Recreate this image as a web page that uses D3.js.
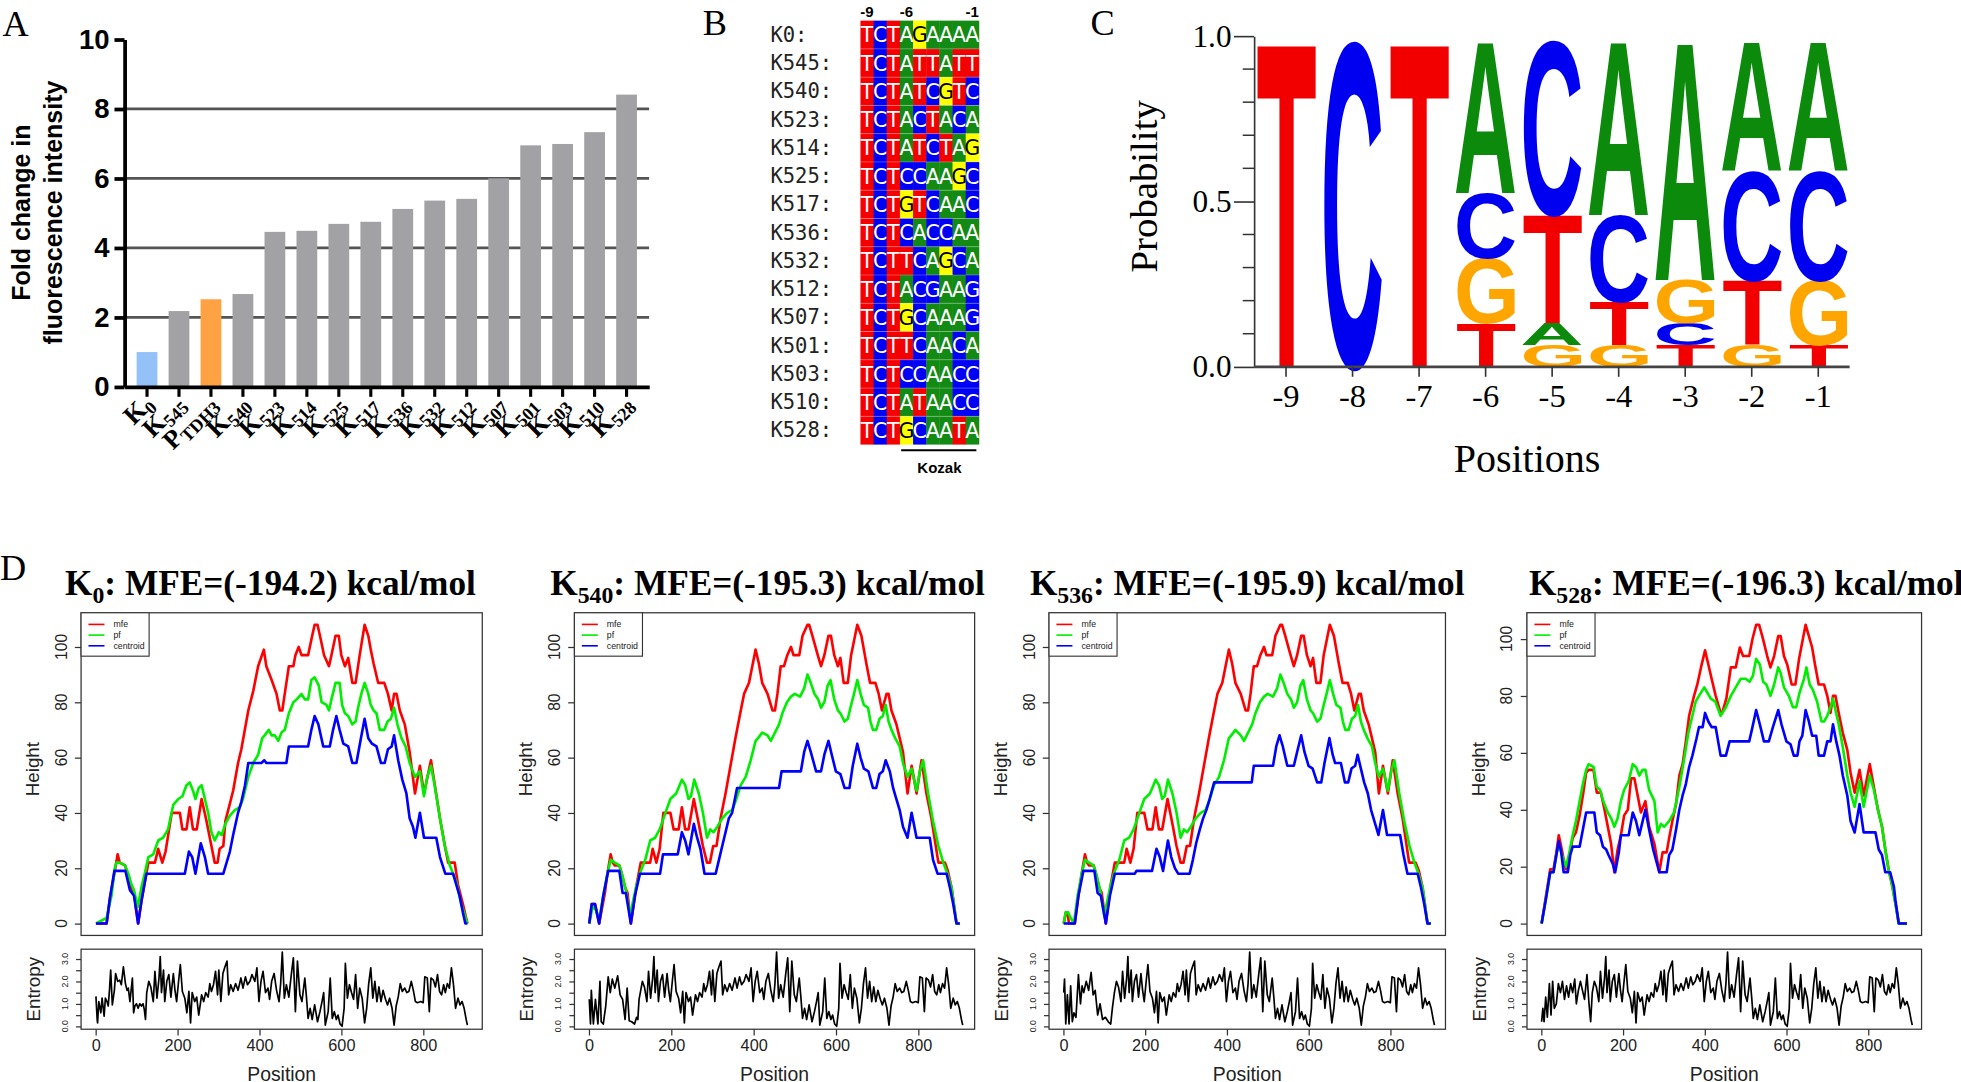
<!DOCTYPE html>
<html><head><meta charset="utf-8">
<script src="https://cdn.jsdelivr.net/npm/d3@7"></script>
<style>html,body{margin:0;padding:0;background:#fff}svg{display:block}</style>
</head><body>
<svg id="chart" width="1961" height="1082" viewBox="0 0 1568 865.2"></svg>
<script>
// ---------------- DATA ----------------
// Panel A
const A_CATEGORIES = ["K0","K545","PTDH3","K540","K523","K514","K525","K517","K536","K532","K512","K507","K501","K503","K510","K528"];
const A_VALUES = [1.0,2.18,2.52,2.67,4.46,4.49,4.69,4.75,5.12,5.36,5.41,6.0,6.95,6.99,7.33,8.41];
const A_TICKS = [0,2,4,6,8,10];
const A_GRID = [2,4,6,8];
const A_YLABEL = ["Fold change in","fluorescence intensity"];

// Panel B (lowercase g = G drawn on blue in the figure)
const B_NAMES = ["K0","K545","K540","K523","K514","K525","K517","K536","K532","K512","K507","K501","K503","K510","K528"];
const B_SEQS = ["TCTAGAAAA","TCTATTATT","TCTATCGTC","TCTACTACA","TCTATCTAG","TCTCCAAGC","TCTGTCAAC","TCTCACCAA","TCTTCAGCA","TCTACgAAg","TCTGCAAAg","TCTTCAACA","TCTCCAACC","TCTATAACC","TCTGCAATA"];
const B_POSITIONS = [-9,-8,-7,-6,-5,-4,-3,-2,-1];
const B_HEADERS = [-9,-6,-1];

// Panel C
const C_YTICKS = [0,0.5,1.0];
const C_MINOR = [0.1,0.2,0.3,0.4,0.6,0.7,0.8,0.9];

// Panel D
const D_SUBS = ["0","540","536","528"];
const D_MFE_VALUES = [-194.2,-195.3,-195.9,-196.3];
const D_HTICKS = [0,20,40,60,80,100];
const D_ETICKS = [0,0.5,1,1.5,2,2.5,3];
const D_XTICKS = [0,200,400,600,800];

const K0_MFE = [[1,0],[27,0],[35,9],[47,19],[54,25],[59,22],[72,21],[76,19],[84,14],[94,11],[104,0],[112,8],[124,18],[129,22],[145,22],[153,27],[163,22],[171,26],[186,40],[206,40],[212,34],[222,34],[230,42],[238,34],[247,34],[259,45],[271,37],[279,31],[291,22],[298,22],[303,27],[312,28],[317,37],[336,48],[348,58],[356,63],[373,77],[385,84],[397,93],[411,99],[417,93],[430,88],[442,83],[450,77],[456,77],[462,83],[472,93],[483,93],[488,97],[496,100],[503,97],[519,97],[529,104],[535,108],[542,108],[548,104],[558,97],[570,93],[576,97],[586,104],[594,104],[600,97],[609,93],[617,96],[627,87],[635,87],[645,97],[657,108],[666,104],[672,99],[679,94],[690,87],[705,87],[714,83],[723,77],[729,83],[735,83],[743,77],[755,72],[767,62],[780,47],[792,57],[802,47],[819,59],[841,38],[853,28],[861,22],[877,22],[885,14],[897,7],[908,0]];
const K0_PF = [[1,0],[27,2],[39,10],[47,20],[51,22],[59,22],[72,21],[80,18],[88,14],[94,12],[103,6],[112,13],[120,18],[129,24],[141,25],[153,30],[165,31],[177,34],[190,43],[202,45],[212,46],[222,50],[230,51],[238,48],[244,45],[252,49],[259,50],[267,45],[275,40],[283,33],[291,30],[301,33],[308,32],[317,36],[328,39],[340,41],[352,42],[360,45],[373,53],[385,58],[397,61],[407,67],[413,68],[423,70],[430,68],[438,68],[446,66],[454,69],[462,70],[472,76],[483,80],[491,81],[503,83],[511,81],[519,81],[527,88],[535,89],[545,86],[552,80],[564,79],[570,77],[576,81],[586,87],[596,87],[602,79],[609,76],[617,75],[627,72],[635,73],[641,78],[649,83],[657,87],[666,83],[672,79],[679,77],[686,76],[694,70],[705,70],[713,73],[721,74],[729,78],[737,72],[747,67],[757,64],[767,58],[780,53],[792,55],[802,46],[810,53],[819,57],[828,50],[841,38],[853,28],[865,21],[881,15],[893,7],[908,0]];
const K0_CEN = [[1,0],[27,0],[35,9],[46,19],[73,19],[84,12],[94,10],[104,0],[112,8],[124,18],[218,18],[228,26],[236,24],[244,18],[257,29],[267,24],[275,18],[312,18],[320,22],[328,26],[336,32],[348,40],[356,44],[365,50],[373,58],[405,58],[412,59],[417,58],[466,58],[472,64],[519,64],[527,70],[535,75],[544,72],[556,64],[572,64],[580,70],[588,75],[596,70],[605,65],[617,64],[627,58],[637,58],[648,67],[657,74],[666,67],[675,65],[686,64],[697,58],[706,58],[714,63],[723,64],[729,68],[739,59],[749,52],[759,47],[767,38],[775,35],[781,31],[792,40],[802,31],[832,31],[841,24],[854,18],[873,18],[881,14],[889,10],[897,4],[903,0],[908,0]];

const K540_MFE = [[1,0],[7,7],[15,7],[25,0],[39,11],[45,18],[53,25],[58,22],[63,21],[74,21],[80,18],[88,13],[94,11],[102,0],[116,14],[126,22],[149,22],[155,27],[164,22],[172,27],[181,40],[198,40],[206,34],[218,34],[226,42],[234,34],[242,34],[255,45],[267,36],[277,28],[287,22],[294,22],[302,28],[310,28],[320,38],[332,47],[344,57],[356,67],[369,77],[377,83],[389,87],[397,93],[405,99],[413,94],[421,87],[434,83],[446,77],[452,77],[458,83],[466,93],[474,93],[482,97],[491,100],[497,97],[511,97],[519,104],[531,108],[535,108],[543,104],[556,97],[564,93],[572,97],[582,104],[588,104],[596,97],[605,93],[611,96],[619,87],[629,87],[637,97],[652,108],[662,104],[668,99],[674,94],[683,87],[696,87],[704,83],[712,77],[723,83],[728,83],[735,77],[747,72],[755,67],[763,62],[774,47],[784,57],[796,47],[808,59],[820,47],[832,38],[849,22],[865,22],[872,19],[881,13],[893,0],[901,0]];
const K540_PF = [[1,0],[9,6],[17,5],[25,1],[35,10],[45,18],[53,23],[63,22],[74,21],[82,17],[90,12],[100,3],[116,14],[126,19],[137,23],[149,30],[161,31],[172,34],[186,40],[198,45],[212,47],[226,52],[234,50],[242,45],[248,46],[256,52],[267,47],[277,40],[287,31],[295,34],[303,33],[312,35],[324,38],[336,40],[348,41],[356,44],[369,50],[381,53],[393,59],[405,66],[411,67],[421,69],[434,68],[442,66],[452,69],[462,72],[470,76],[481,80],[491,82],[500,83],[513,82],[523,85],[531,90],[539,87],[548,83],[557,81],[564,78],[572,80],[580,86],[587,88],[596,81],[605,77],[611,76],[621,73],[629,74],[637,79],[644,83],[652,88],[660,83],[668,79],[678,78],[684,73],[690,70],[698,70],[706,74],[714,75],[721,79],[728,73],[735,70],[744,67],[755,64],[763,58],[774,53],[784,56],[796,48],[804,55],[812,59],[824,47],[836,37],[849,28],[861,22],[871,18],[881,13],[893,0],[901,0]];
const K540_CEN = [[1,0],[7,7],[15,7],[25,0],[35,10],[47,19],[74,19],[82,11],[90,11],[102,0],[112,10],[124,18],[173,18],[180,25],[216,25],[226,33],[234,30],[242,25],[255,36],[263,31],[271,27],[281,18],[308,18],[316,23],[324,28],[332,33],[340,38],[348,40],[360,49],[462,49],[468,55],[515,55],[523,62],[531,66],[539,62],[552,55],[564,55],[572,61],[582,66],[590,61],[600,55],[611,54],[621,49],[633,49],[641,57],[652,65],[660,60],[668,56],[679,55],[690,49],[698,49],[706,54],[714,55],[721,59],[731,55],[739,49],[747,45],[755,41],[763,35],[774,31],[784,40],[796,31],[828,31],[836,23],[847,18],[869,18],[877,13],[885,7],[893,0],[901,0]];

const K536_MFE = [[1,0],[6,4],[10,4],[14,0],[28,0],[37,10],[45,18],[53,25],[58,22],[63,21],[74,21],[80,18],[88,13],[94,11],[104,0],[116,14],[126,22],[149,22],[155,27],[164,22],[172,27],[181,40],[198,40],[206,34],[218,34],[226,42],[234,34],[242,34],[255,45],[267,36],[277,28],[287,22],[294,22],[302,28],[310,28],[320,38],[332,47],[344,57],[356,67],[369,77],[377,83],[389,87],[397,93],[405,99],[413,94],[421,87],[434,83],[446,77],[452,77],[458,83],[466,93],[474,93],[482,97],[491,100],[497,97],[511,97],[519,104],[531,108],[535,108],[543,104],[556,97],[564,93],[572,97],[582,104],[588,104],[596,97],[605,93],[611,96],[619,87],[629,87],[637,97],[652,108],[662,104],[668,99],[674,94],[683,87],[696,87],[704,83],[712,77],[723,83],[728,83],[735,77],[747,72],[755,67],[763,62],[772,47],[782,57],[794,47],[806,59],[818,47],[830,38],[846,22],[862,22],[870,19],[879,13],[891,0],[899,0]];
const K536_PF = [[1,0],[6,4],[12,4],[18,2],[26,0],[35,10],[45,18],[53,23],[63,22],[74,21],[82,17],[90,12],[100,3],[116,14],[126,19],[137,23],[149,30],[161,31],[172,34],[186,40],[198,45],[212,47],[226,52],[234,50],[242,45],[248,46],[256,52],[267,47],[277,40],[287,31],[295,34],[303,33],[312,35],[324,38],[336,40],[348,41],[356,44],[369,50],[381,53],[393,59],[405,67],[411,68],[421,70],[434,68],[442,66],[452,69],[462,72],[470,76],[481,80],[491,82],[500,83],[513,82],[523,85],[531,90],[539,87],[548,83],[557,81],[564,78],[572,80],[580,86],[587,88],[596,81],[605,77],[611,76],[621,73],[629,74],[637,79],[644,83],[652,88],[660,83],[668,79],[678,78],[684,73],[690,70],[698,70],[706,74],[714,75],[721,79],[728,73],[735,70],[744,67],[755,64],[763,58],[772,53],[782,56],[794,48],[802,55],[810,59],[822,47],[834,37],[847,28],[859,22],[869,18],[879,13],[891,0],[899,0]];
const K536_CEN = [[1,0],[28,0],[37,10],[49,19],[76,19],[84,11],[92,10],[104,0],[114,10],[126,18],[175,18],[179,19],[217,19],[228,27],[236,24],[244,19],[256,30],[264,24],[273,20],[281,18],[309,18],[317,23],[325,29],[334,34],[342,38],[350,41],[358,45],[369,51],[461,51],[466,57],[513,57],[521,64],[529,68],[537,64],[548,57],[564,57],[572,62],[582,68],[590,62],[600,57],[610,56],[621,51],[631,51],[639,58],[651,67],[659,61],[665,58],[679,58],[689,51],[697,51],[705,56],[714,57],[720,61],[728,56],[736,51],[745,47],[753,41],[761,37],[771,32],[782,41],[792,32],[824,32],[832,25],[842,18],[867,18],[875,13],[883,7],[891,0],[899,0]];

const K528_MFE = [[1,0],[12,10],[22,19],[30,19],[37,25],[43,31],[49,27],[57,21],[61,19],[69,24],[77,30],[85,32],[94,38],[102,45],[110,53],[116,54],[128,54],[136,46],[146,46],[155,40],[163,34],[171,28],[179,18],[187,26],[195,31],[203,38],[212,40],[220,51],[228,51],[236,45],[244,39],[255,43],[264,34],[277,28],[289,18],[297,25],[307,25],[313,30],[321,36],[330,42],[338,52],[346,56],[354,64],[362,73],[374,80],[382,84],[391,90],[401,96],[409,91],[417,86],[427,80],[439,74],[443,74],[453,79],[464,90],[476,90],[486,97],[494,94],[509,94],[517,100],[526,105],[533,105],[541,101],[553,94],[561,90],[570,94],[580,101],[586,101],[594,94],[602,91],[613,84],[622,84],[631,93],[647,105],[655,101],[663,97],[670,91],[679,84],[692,84],[700,80],[708,74],[714,80],[720,80],[728,74],[738,67],[749,61],[757,53],[767,46],[779,54],[789,45],[804,56],[814,48],[824,40],[834,34],[842,26],[850,19],[858,14],[867,7],[875,0],[895,0]];
const K528_PF = [[1,0],[12,9],[22,18],[30,18],[37,24],[43,28],[51,24],[61,20],[69,25],[77,31],[85,36],[94,43],[102,49],[110,54],[116,56],[128,55],[136,48],[144,47],[152,43],[163,39],[171,37],[179,34],[187,37],[195,43],[203,47],[214,50],[224,56],[232,55],[240,52],[248,54],[255,54],[264,47],[277,43],[285,32],[293,35],[301,34],[313,36],[325,39],[338,48],[350,58],[360,67],[370,73],[378,78],[386,80],[399,83],[407,81],[415,79],[426,78],[439,73],[452,76],[464,80],[476,83],[488,86],[500,86],[510,85],[518,87],[526,93],[535,91],[543,85],[551,84],[561,80],[570,84],[580,90],[586,88],[594,83],[606,80],[616,76],[624,76],[632,81],[643,86],[649,90],[657,84],[665,82],[675,78],[686,71],[692,71],[700,73],[708,76],[714,79],[720,75],[728,70],[738,62],[749,52],[757,46],[767,41],[779,50],[789,41],[804,52],[814,47],[824,40],[834,34],[842,26],[850,19],[858,14],[875,0],[895,0]];
const K528_CEN = [[1,0],[12,9],[22,18],[30,18],[37,24],[43,29],[49,25],[55,18],[65,18],[71,24],[77,27],[94,27],[102,33],[110,39],[130,39],[136,32],[144,31],[151,27],[159,26],[165,24],[175,21],[181,18],[190,25],[195,31],[214,31],[224,39],[232,36],[240,31],[255,40],[264,33],[274,26],[289,18],[307,18],[313,24],[321,26],[330,33],[338,40],[346,45],[354,49],[362,55],[370,59],[380,65],[386,69],[395,69],[401,74],[409,71],[417,69],[427,69],[439,59],[452,59],[461,64],[509,64],[517,69],[526,75],[535,70],[545,64],[557,64],[567,69],[580,75],[588,70],[600,64],[610,63],[618,59],[627,59],[632,64],[639,66],[647,75],[655,71],[663,66],[673,66],[679,59],[692,59],[700,64],[708,64],[714,70],[722,64],[730,59],[738,52],[749,45],[757,36],[767,32],[779,42],[789,32],[818,32],[826,26],[834,24],[842,18],[854,18],[863,13],[867,8],[875,0],[895,0]];

// Entropy (position, entropy)
const ENT_K0_HEAD = [[1,1.33],[4,0.3],[5,0.15],[8,1.1],[13,0.6],[16,1.25],[21,0.45],[24,1.25],[28,1.1],[31,0.9],[34,1.6],[37,2.5],[41,0.95],[46,1.6],[49,2.35],[54,2.0],[59,2.05],[63,1.85],[68,2.65],[73,1.9],[77,1.6],[80,1.7],[84,1.1],[90,2.15],[93,0.6],[96,0.9],[100,1.0],[104,0.8],[108,1.0],[112,0.9],[116,1.0],[119,0.75],[122,0.3]];
const ENT_K540_HEAD = [[1,1.2],[4,0.1],[6,1.6],[11,0.1],[16,1.2],[22,0.1],[27,2.0],[30,0.2],[35,0.1],[41,0.9],[47,2.2],[52,1.5],[57,2.1],[63,1.7],[70,2.25],[76,1.4],[82,1.2],[88,0.3],[93,1.7],[98,0.25],[104,0.2],[111,0.1],[116,0.4],[119,0.3],[122,1.2]];
const ENT_K536_HEAD = [[1,1.5],[3,2.1],[6,0.1],[10,1.4],[14,0.1],[18,1.8],[22,0.2],[26,0.6],[31,0.4],[37,2.3],[42,1.0],[46,1.8],[50,1.5],[56,2.0],[62,1.6],[68,2.4],[73,1.4],[78,1.6],[84,0.5],[90,1.0],[96,0.3],[103,0.4],[110,0.2],[116,0.1],[120,0.8]];
const ENT_K528_HEAD = [[1,0.2],[4,0.8],[7,0.2],[11,1.3],[15,0.4],[20,1.9],[24,0.5],[28,2.0],[32,0.8],[37,1.0],[42,1.9],[47,1.5],[52,2.0],[57,1.2],[62,1.8],[67,1.3],[72,1.9],[77,1.5],[82,2.1],[86,1.0],[91,1.6],[96,2.0],[101,1.6],[106,1.2],[112,2.3],[117,1.0],[121,0.2]];
const ENT_TAIL = [[125,1.5],[130,2.0],[135,1.75],[141,1.1],[145,2.45],[150,1.25],[155,2.15],[158,3.1],[161,1.5],[166,2.5],[169,1.1],[174,2.0],[179,2.3],[184,1.3],[190,2.35],[194,1.6],[198,1.1],[203,2.05],[207,2.75],[212,1.55],[218,1.25],[223,0.6],[228,1.55],[232,0.15],[236,1.5],[242,1.1],[247,1.3],[252,0.5],[259,1.4],[264,1.1],[269,1.5],[275,1.3],[279,1.9],[283,1.55],[288,1.85],[293,2.45],[298,1.4],[301,2.5],[306,1.1],[311,2.35],[316,2.65],[321,2.9],[325,1.4],[330,1.85],[336,1.55],[342,1.9],[348,1.6],[355,2.15],[360,1.7],[366,2.2],[371,1.85],[377,2.0],[382,2.3],[389,2.0],[394,2.6],[399,1.1],[404,2.0],[409,2.45],[415,1.5],[421,1.7],[425,1.2],[430,2.0],[436,2.35],[442,1.6],[448,1.1],[452,1.9],[456,3.3],[461,1.25],[466,1.85],[472,1.3],[478,2.3],[483,3.05],[488,0.65],[493,2.9],[499,1.4],[504,1.1],[511,2.15],[515,1.3],[519,0.35],[524,0.8],[529,0.3],[535,0.95],[542,0.2],[548,0.65],[553,1.1],[557,1.5],[561,0.05],[568,0.65],[573,2.15],[578,0.35],[583,0.65],[588,0.3],[592,0.5],[597,0.1],[602,0.0],[607,0.8],[610,2.8],[615,1.25],[620,1.85],[625,1.5],[630,1.2],[635,2.3],[640,0.8],[645,1.7],[651,1.25],[657,0.15],[662,0.8],[667,1.9],[672,2.6],[677,1.25],[682,2.0],[687,1.1],[692,1.75],[697,1.1],[702,1.6],[708,1.2],[713,0.95],[718,1.25],[724,0.8],[729,0.05],[734,0.9],[739,1.3],[744,1.9],[749,1.55],[755,1.7],[760,1.5],[765,1.55],[771,2.0],[776,1.6],[781,1.1],[786,1.05],[794,1.1],[800,1.05],[804,2.2],[810,2.15],[815,0.65],[819,2.15],[825,2.05],[830,1.75],[835,2.3],[840,1.55],[845,1.4],[850,1.85],[854,1.5],[859,1.9],[864,1.7],[869,2.6],[874,1.85],[879,0.8],[885,1.25],[890,0.95],[895,1.1],[900,0.8],[905,0.3],[908,0.05]];

// ---------------- STYLE / LAYOUT ----------------
const SERIF = "'Liberation Serif','Times New Roman',Times,serif";
const SANS = "'Liberation Sans',Arial,Helvetica,sans-serif";
const MONO = "'DejaVu Sans Mono',monospace";
const DEJAVU = "'DejaVu Sans',Verdana,sans-serif";
const svg = d3.select('#chart');

[["A",2,29],["B",562,28],["C",872,28],["D",0,464]].forEach(([t,x,y])=>{
  svg.append('text').attr('x',x).attr('y',y).text(t).attr('font-family',SERIF).attr('font-size',29).attr('fill','#000');
});

// ---------------- PANEL A ----------------
(function(){
  const g = svg.append('g');
  const x = d3.scaleBand().domain(A_CATEGORIES).range([99.5,519]).paddingInner(0.35).paddingOuter(0.38);
  const y = d3.scaleLinear().domain([0,10]).range([309.3,31.5]);
  const colorOf = c => c==="K0" ? "#93c1f8" : (c==="PTDH3" ? "#ffa243" : "#a2a2a6");
  g.selectAll('line.grid').data(A_GRID).join('line')
    .attr('x1',99.5).attr('x2',519).attr('y1',d=>y(d)).attr('y2',d=>y(d))
    .attr('stroke','#555').attr('stroke-width',2.2);
  g.selectAll('rect.bar').data(A_CATEGORIES).join('rect').attr('class','bar')
    .attr('x',d=>x(d)).attr('width',x.bandwidth())
    .attr('y',(d,i)=>y(A_VALUES[i])).attr('height',(d,i)=>y(0)-y(A_VALUES[i]))
    .attr('fill',colorOf);
  const ya = g.append('g').attr('transform','translate(99.5,0)')
    .call(d3.axisLeft(y).tickValues(A_TICKS).tickSize(8).tickSizeOuter(0).tickPadding(4).tickFormat(d3.format('d')));
  ya.select('.domain').attr('stroke','#000').attr('stroke-width',3);
  ya.selectAll('.tick line').attr('stroke','#000').attr('stroke-width',3);
  ya.selectAll('.tick text').attr('font-family',SANS).attr('font-weight','bold').attr('font-size',22).attr('fill','#000');
  const xa = g.append('g').attr('transform','translate(0,309.3)')
    .call(d3.axisBottom(x).tickSize(8).tickSizeOuter(0).tickFormat(''));
  xa.select('.domain').attr('stroke','#000').attr('stroke-width',3);
  xa.selectAll('.tick line').attr('stroke','#000').attr('stroke-width',2.5);
  A_CATEGORIES.forEach(c=>{
    const m = c.match(/^([A-Z])(.*)$/);
    const cx = x(c)+x.bandwidth()/2;
    const t = g.append('text').attr('transform',`translate(${cx+6},${324}) rotate(-45)`)
      .attr('text-anchor','end').attr('font-family',SERIF).attr('font-weight','bold').attr('fill','#000');
    t.append('tspan').attr('font-size',21).text(m[1]);
    t.append('tspan').attr('font-size',14.5).attr('dy',4).text(m[2]);
  });
  A_YLABEL.forEach((s,i)=>{
    g.append('text').attr('transform',`translate(${17+i*25},170) rotate(-90)`)
      .attr('text-anchor','middle').attr('dominant-baseline','central')
      .attr('font-family',SANS).attr('font-weight','bold').attr('font-size',20).attr('fill','#000').text(s);
  });
})();

// ---------------- PANEL B ----------------
const BASE_BG = {T:"#f50000",C:"#0000f5",A:"#138a13",G:"#ffff00",g:"#0000f5"};
const BASE_FG = {T:"#fff",C:"#fff",A:"#fff",G:"#000",g:"#fff"};
(function(){
  const g = svg.append('g');
  const x = d3.scaleBand().domain(B_POSITIONS).range([688,782.7]);
  const y = d3.scaleBand().domain(B_NAMES).range([16.5,355.5]);
  B_NAMES.forEach((n,i)=>{
    g.append('text').attr('x',616).attr('y',y(n)+y.bandwidth()/2).attr('dominant-baseline','central')
      .attr('font-family',MONO).attr('font-size',16.4).attr('fill','#222').text(n+":");
    B_SEQS[i].split('').forEach((b,j)=>{
      const p = B_POSITIONS[j];
      g.append('rect').attr('x',x(p)).attr('y',y(n)).attr('width',x.bandwidth()+0.3).attr('height',y.bandwidth())
        .attr('fill',BASE_BG[b]);
      g.append('text').attr('x',x(p)+x.bandwidth()/2).attr('y',y(n)+y.bandwidth()/2+0.5)
        .attr('text-anchor','middle').attr('dominant-baseline','central')
        .attr('font-family',DEJAVU).attr('font-size',16.5).attr('fill',BASE_FG[b]).text(b.toUpperCase());
    });
  });
  B_NAMES.slice(1).forEach(n=>{
    g.append('line').attr('x1',688).attr('x2',782.7).attr('y1',y(n)).attr('y2',y(n))
      .attr('stroke','#fff').attr('stroke-opacity',0.35).attr('stroke-width',0.6);
  });
  B_HEADERS.forEach(p=>{
    g.append('text').attr('x',x(p)+x.bandwidth()/2).attr('y',9.5).attr('text-anchor','middle').attr('dominant-baseline','central')
      .attr('font-family',SANS).attr('font-weight','bold').attr('font-size',12).attr('fill','#000').text(String(p));
  });
  g.append('line').attr('x1',x(-6)+1).attr('x2',x(-1)+x.bandwidth()-2).attr('y1',360).attr('y2',360).attr('stroke','#000').attr('stroke-width',1.6);
  g.append('text').attr('x',(x(-6)+x(-1)+x.bandwidth())/2).attr('y',374).attr('text-anchor','middle').attr('dominant-baseline','central')
    .attr('font-family',SANS).attr('font-weight','bold').attr('font-size',12).attr('fill','#000').text('Kozak');
})();

// ---------------- PANEL C ----------------
const LOGO_COLORS = {A:"#0b8a0b",C:"#0000f0",G:"#ffa500",T:"#f20000"};
const LOGO_TIE = ["G","T","C","A"];
(function(){
  const g = svg.append('g');
  const x = d3.scaleBand().domain(B_POSITIONS).range([1001.7,1480.5]).paddingInner(0.11).paddingOuter(0.055);
  const y = d3.scaleLinear().domain([0,1]).range([293.3,28.8]);
  const FS = 40;
  const cv = document.createElement('canvas').getContext('2d');
  cv.font = "bold " + FS + "px 'Liberation Sans', Arial, sans-serif";
  const box = {};
  ["A","C","G","T"].forEach(ch=>{
    const m = cv.measureText(ch);
    box[ch] = {l:m.actualBoundingBoxLeft, r:m.actualBoundingBoxRight, a:m.actualBoundingBoxAscent, d:m.actualBoundingBoxDescent};
  });
  const n = B_SEQS.length;
  B_POSITIONS.forEach((p,j)=>{
    const counts = {};
    B_SEQS.forEach(s=>{ const b=s[j].toUpperCase(); counts[b]=(counts[b]||0)+1; });
    const letters = Object.keys(counts).sort((a,b)=> counts[a]-counts[b] || LOGO_TIE.indexOf(a)-LOGO_TIE.indexOf(b));
    let cum = 0;
    letters.forEach(ch=>{
      const prob = counts[ch]/n*0.985;
      const y0 = y(cum+prob), h = y(cum)-y(cum+prob);
      const w = x.bandwidth();
      const b = box[ch];
      const sx = w/(b.l+b.r), sy = h/(b.a+b.d);
      g.append('text').text(ch).attr('font-family',SANS).attr('font-weight','bold').attr('font-size',FS)
        .attr('fill',LOGO_COLORS[ch])
        .attr('transform',`translate(${x(p)},${y0}) scale(${sx},${sy}) translate(${b.l},${b.a})`);
      cum += prob;
    });
  });
  const ya = g.append('g').attr('transform','translate(1002.7,0)')
    .call(d3.axisLeft(y).tickValues(C_YTICKS).tickSize(16).tickSizeOuter(0).tickPadding(2).tickFormat(d3.format('.1f')));
  ya.select('.domain').attr('stroke','#333').attr('stroke-width',1.3);
  ya.selectAll('.tick line').attr('stroke','#333').attr('stroke-width',1.3);
  ya.selectAll('.tick text').attr('font-family',SERIF).attr('font-size',25).attr('fill','#000');
  g.selectAll('line.minor').data(C_MINOR).join('line').attr('x1',993.7).attr('x2',1002.7)
    .attr('y1',d=>y(d)).attr('y2',d=>y(d)).attr('stroke','#333').attr('stroke-width',1.2);
  const xa = g.append('g').attr('transform','translate(0,293.3)')
    .call(d3.axisBottom(x).tickSize(8).tickSizeOuter(0).tickPadding(6).tickFormat(d=>String(d)));
  xa.select('.domain').attr('stroke','#444').attr('stroke-width',2.2).attr('d','M1002.7,0H1479');
  xa.selectAll('.tick line').attr('stroke','#333').attr('stroke-width',1.3);
  xa.selectAll('.tick text').attr('font-family',SERIF).attr('font-size',26).attr('fill','#000');
  g.append('text').attr('transform','translate(914,149) rotate(-90)').attr('text-anchor','middle').attr('dominant-baseline','central')
    .attr('font-family',SERIF).attr('font-size',31).attr('fill','#000').text('Probability');
  g.append('text').attr('x',1221).attr('y',367).attr('text-anchor','middle').attr('dominant-baseline','central')
    .attr('font-family',SERIF).attr('font-size',32).attr('fill','#000').text('Positions');
})();

// ---------------- PANEL D ----------------
const D_DATA = [
  {mfe:K0_MFE, pf:K0_PF, cen:K0_CEN, ent:ENT_K0_HEAD.concat(ENT_TAIL)},
  {mfe:K540_MFE, pf:K540_PF, cen:K540_CEN, ent:ENT_K540_HEAD.concat(ENT_TAIL)},
  {mfe:K536_MFE, pf:K536_PF, cen:K536_CEN, ent:ENT_K536_HEAD.concat(ENT_TAIL)},
  {mfe:K528_MFE, pf:K528_PF, cen:K528_CEN, ent:ENT_K528_HEAD.concat(ENT_TAIL)}
];
const D_LEFT = [64.8,459.3,838.8,1221];
const D_WIDTH = [320.8,320,317,315.5];
const D_TITLE_X = [52,440,823.5,1222.5];
const MAIN_TOP = 490, MAIN_BOTTOM = 748, ENT_TOP = 759, ENT_BOTTOM = 823;
const LINE_COLORS = {mfe:"#ff0000", pf:"#00ee00", cen:"#0000ff"};
const LEGEND = [["mfe","mfe"],["pf","pf"],["cen","centroid"]];

D_DATA.forEach((p,k)=>{
  const g = svg.append('g');
  const left = D_LEFT[k], w = D_WIDTH[k];
  const L = p.mfe[p.mfe.length-1][0];
  const pad = 0.04*(L-1);
  const x = d3.scaleLinear().domain([1-pad, L+pad]).range([left,left+w]);
  const hmax = d3.max([...p.mfe,...p.pf,...p.cen], d=>d[1]);
  const y = d3.scaleLinear().domain([-0.04*hmax, 1.04*hmax]).range([MAIN_BOTTOM, MAIN_TOP]);
  const emax = d3.max(p.ent, d=>d[1]);
  const ye = d3.scaleLinear().domain([-0.04*emax, 1.04*emax]).range([ENT_BOTTOM, ENT_TOP]);

  const t = g.append('text').attr('x',D_TITLE_X[k]).attr('y',476).attr('font-family',SERIF).attr('font-weight','bold').attr('fill','#000');
  t.append('tspan').attr('font-size',28.2).text('K');
  t.append('tspan').attr('font-size',19).attr('dy',6).text(D_SUBS[k]);
  t.append('tspan').attr('font-size',28.2).attr('dy',-6).text(': MFE=(' + D_MFE_VALUES[k].toFixed(1) + ') kcal/mol');

  const line = d3.line().x(d=>x(d[0])).y(d=>y(d[1]));
  [["mfe",p.mfe],["pf",p.pf],["cen",p.cen]].forEach(([key,arr])=>{
    g.append('path').attr('d',line(arr)).attr('fill','none').attr('stroke',LINE_COLORS[key])
      .attr('stroke-width',2.1).attr('stroke-linejoin','round');
  });
  g.append('rect').attr('x',left).attr('y',MAIN_TOP).attr('width',w).attr('height',MAIN_BOTTOM-MAIN_TOP)
    .attr('fill','none').attr('stroke','#333').attr('stroke-width',1);

  const lg = g.append('g').attr('transform',`translate(${left},${MAIN_TOP})`);
  lg.append('rect').attr('width',54.4).attr('height',34.7).attr('fill','#fff').attr('stroke','#333').attr('stroke-width',0.9);
  LEGEND.forEach(([key,label],i)=>{
    const yy = 9.3 + i*8.55;
    lg.append('line').attr('x1',5.9).attr('x2',18.7).attr('y1',yy).attr('y2',yy).attr('stroke',LINE_COLORS[key]).attr('stroke-width',1.3);
    lg.append('text').attr('x',25.9).attr('y',yy).attr('dominant-baseline','central').attr('font-family',SANS)
      .attr('font-size',7).attr('fill','#222').text(label);
  });

  const ya = g.append('g').attr('transform',`translate(${left},0)`)
    .call(d3.axisLeft(y).tickValues(D_HTICKS).tickSize(5).tickSizeOuter(0).tickFormat(''));
  ya.select('.domain').remove();
  ya.selectAll('.tick line').attr('stroke','#333');
  D_HTICKS.forEach(v=>{
    g.append('text').attr('transform',`translate(${left-16},${y(v)}) rotate(-90)`).attr('text-anchor','middle')
      .attr('dominant-baseline','central').attr('font-family',SANS).attr('font-size',12.5).attr('fill','#222').text(v);
  });
  g.append('text').attr('transform',`translate(${left-39},${(MAIN_TOP+MAIN_BOTTOM)/2-4}) rotate(-90)`).attr('text-anchor','middle')
    .attr('dominant-baseline','central').attr('font-family',SANS).attr('font-size',15).attr('fill','#222').text('Height');

  const eline = d3.line().x(d=>x(d[0])).y(d=>ye(d[1]));
  g.append('path').attr('d',eline(p.ent)).attr('fill','none').attr('stroke','#000').attr('stroke-width',1.35).attr('stroke-linejoin','round');
  g.append('rect').attr('x',left).attr('y',ENT_TOP).attr('width',w).attr('height',ENT_BOTTOM-ENT_TOP)
    .attr('fill','none').attr('stroke','#333').attr('stroke-width',1);
  const yea = g.append('g').attr('transform',`translate(${left},0)`)
    .call(d3.axisLeft(ye).tickValues(D_ETICKS).tickSize(4).tickSizeOuter(0).tickFormat(''));
  yea.select('.domain').remove();
  yea.selectAll('.tick line').attr('stroke','#333');
  D_ETICKS.filter(v=>Number.isInteger(v)).forEach(v=>{
    g.append('text').attr('transform',`translate(${left-13},${ye(v)}) rotate(-90)`).attr('text-anchor','middle')
      .attr('dominant-baseline','central').attr('font-family',SANS).attr('font-size',7).attr('fill','#222').text(v.toFixed(1));
  });
  g.append('text').attr('transform',`translate(${left-38},${(ENT_TOP+ENT_BOTTOM)/2}) rotate(-90)`).attr('text-anchor','middle')
    .attr('dominant-baseline','central').attr('font-family',SANS).attr('font-size',15).attr('fill','#222').text('Entropy');
  const xa = g.append('g').attr('transform',`translate(0,${ENT_BOTTOM})`)
    .call(d3.axisBottom(x).tickValues(D_XTICKS).tickSize(5).tickSizeOuter(0).tickPadding(3).tickFormat(d3.format('d')));
  xa.select('.domain').remove();
  xa.selectAll('.tick line').attr('stroke','#333');
  xa.selectAll('.tick text').attr('font-family',SANS).attr('font-size',13).attr('fill','#222');
  g.append('text').attr('x',left+w/2).attr('y',859).attr('text-anchor','middle').attr('dominant-baseline','central')
    .attr('font-family',SANS).attr('font-size',15.5).attr('fill','#222').text('Position');
});
</script>
</body></html>
